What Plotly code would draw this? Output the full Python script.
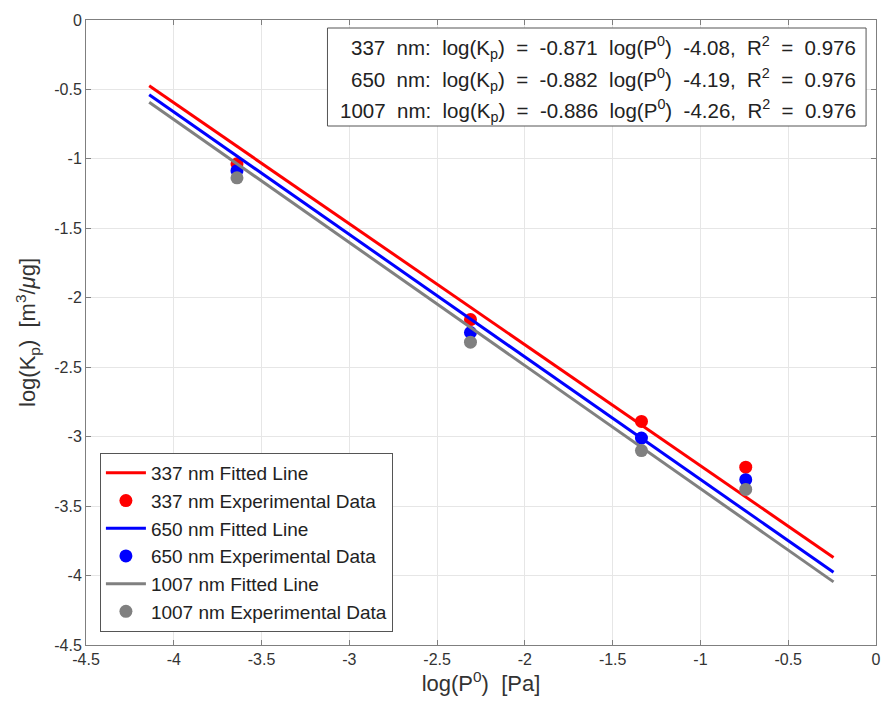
import plotly.graph_objects as go

# Data
log_p0 = [-3.64, -2.31, -1.336, -0.742]
kp_337 = [-1.035, -2.157, -2.89, -3.22]
kp_650 = [-1.085, -2.25, -3.01, -3.31]
kp_1007 = [-1.136, -2.32, -3.10, -3.38]

wavelengths = ["337", "650", "1007"]
slopes = [-0.871, -0.882, -0.886]
intercepts = [-4.08, -4.19, -4.26]
r2 = [0.976, 0.976, 0.976]
colors = ["#ff0000", "#0000ff", "#808080"]
series = [kp_337, kp_650, kp_1007]

x_ticks = [-4.5, -4, -3.5, -3, -2.5, -2, -1.5, -1, -0.5, 0]
y_ticks = [0, -0.5, -1, -1.5, -2, -2.5, -3, -3.5, -4, -4.5]

FONT = "Liberation Sans, Arial, sans-serif"

fig = go.Figure()
x_fit = [min(log_p0) - 0.5, max(log_p0) + 0.5]
for wl, s, b, c, ys in zip(wavelengths, slopes, intercepts, colors, series):
    fig.add_trace(go.Scatter(
        x=x_fit, y=[s * x + b for x in x_fit], mode="lines",
        line=dict(color=c, width=3), name=f"{wl} nm Fitted Line"))
    fig.add_trace(go.Scatter(
        x=log_p0, y=ys, mode="markers",
        marker=dict(color=c, size=13, line=dict(width=0)),
        name=f"{wl} nm Experimental Data"))

axis_common = dict(
    showline=True, linecolor="#7f7f7f", linewidth=1, mirror="allticks",
    ticks="inside", ticklen=5, tickcolor="#7f7f7f",
    showgrid=True, gridcolor="#e6e6e6", gridwidth=1, zeroline=False,
    tickfont=dict(family=FONT, size=16, color="#333333"),
)

fig.update_xaxes(range=[-4.5, 0], tickvals=x_ticks,
                 ticktext=[f"{v:g}" for v in x_ticks],
                 title=dict(text="log(P<sup>0</sup>)  [Pa]", standoff=8,
                            font=dict(family=FONT, size=22, color="#333333")),
                 **axis_common)
fig.update_yaxes(range=[-4.5, 0], tickvals=y_ticks,
                 ticktext=[f"{v:g}" for v in y_ticks],
                 title=dict(text="log(K<sub>p</sub>)  [m<sup>3</sup>/<i>μ</i>g]", standoff=12,
                            font=dict(family=FONT, size=22, color="#333333")),
                 **axis_common)

# Equation box
fig.add_shape(type="rect", xref="paper", yref="paper",
              x0=(329 - 86) / 795, x1=(871 - 86) / 795,
              y0=(645 - 126) / 625, y1=(645 - 28) / 625,
              line=dict(color="#555555", width=1), fillcolor="white")
line_y_px = [47, 79, 110]
for wl, s, b, rr, ypx in zip(wavelengths, slopes, intercepts, r2, line_y_px):
    txt = (f"{wl}\u00a0 nm:\u00a0 log(K<sub>p</sub>)\u00a0 =\u00a0 {s:.3f}\u00a0 log(P<sup>0</sup>)\u00a0 "
           f"{b:.2f},\u00a0 R<sup>2</sup>\u00a0 =\u00a0 {rr:.3f}")
    fig.add_annotation(xref="paper", yref="paper",
                       x=(863 - 86) / 795, y=(645 - ypx) / 625,
                       xanchor="right", yanchor="middle", showarrow=False,
                       text=txt, font=dict(family=FONT, size=20.5, color="#222222"))

fig.update_layout(
    width=887, height=704,
    margin=dict(l=86, r=6, t=20, b=59),
    plot_bgcolor="white", paper_bgcolor="white",
    font=dict(family=FONT, color="#333333"),
    legend=dict(x=(100 - 86) / 795, y=(645 - 632) / 625, xanchor="left", yanchor="bottom",
                bgcolor="white", bordercolor="#555555", borderwidth=1,
                font=dict(family=FONT, size=19, color="#222222"),
                tracegroupgap=0, itemwidth=40),
    showlegend=True,
)

fig.write_html("out.html")
